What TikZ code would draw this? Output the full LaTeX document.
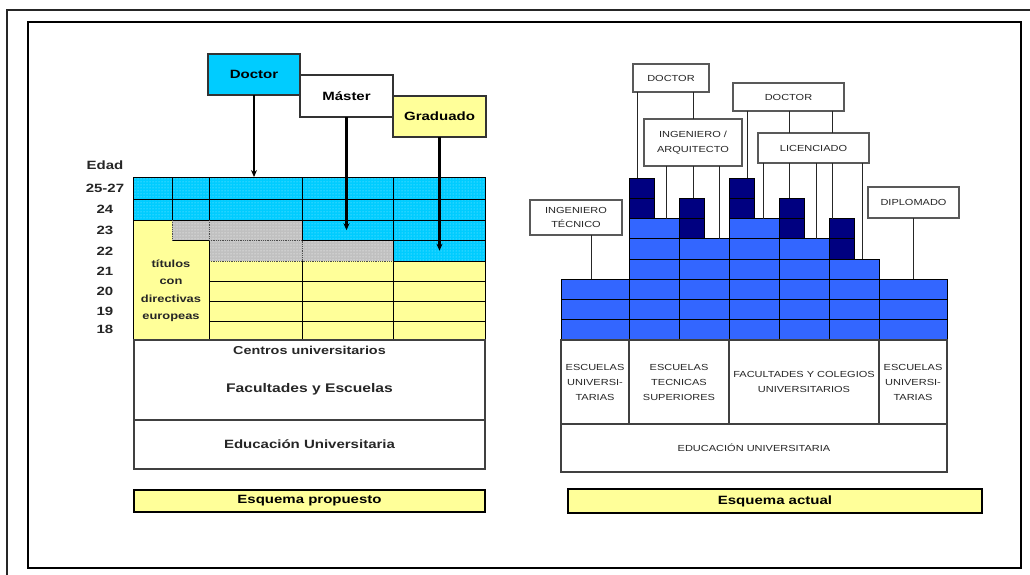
\documentclass[tikz,border=0pt]{standalone}
\usepackage{fontspec}
\setmainfont{Liberation Sans}[FakeStretch=1.25]
\usetikzlibrary{patterns,arrows.meta,calc}

\definecolor{cyanC}{HTML}{00CCFF}
\definecolor{yelC}{HTML}{FFFF99}
\definecolor{grayC}{HTML}{C0C0C0}
\definecolor{blueC}{HTML}{3366FF}
\definecolor{navyC}{HTML}{000080}

% rectangular node given by its corners: name, x1, y1, x2, y2, style, text
\newcommand\boxat[7]{%
  \pgfmathsetmacro\Bxc{(#2+#4)/2}\pgfmathsetmacro\Byc{(#3+#5)/2}%
  \pgfmathsetmacro\Bw{#4-#2}\pgfmathsetmacro\Bh{#5-#3}%
  \node[inner sep=0pt, outer sep=0pt, minimum width=\Bw pt, minimum height=\Bh pt, #6] (#1) at (\Bxc,\Byc) {#7};}

\begin{document}
\begin{tikzpicture}[x=1pt, y=-1pt,
  hdbox/.style={draw=black!80, line width=1.6pt, font=\fontsize{12}{14}\selectfont\bfseries},
  wbox/.style={draw=black!75, line width=1.5pt, fill=white, font=\fontsize{12}{14}\selectfont\bfseries},
  ybox/.style={draw=black, line width=1.6pt, fill=yelC, font=\fontsize{12}{14}\selectfont\bfseries},
  cyanfill/.style={preaction={fill=cyanC}, pattern=dots, pattern color=white!60!cyanC},
  grayfill/.style={preaction={fill=grayC}, pattern=dots, pattern color=white},
  gl/.style={line width=0.8pt, black},
  dotl/.style={line width=0.8pt, black!70, densely dotted},
  arr/.style={line width=2.2pt, -{Stealth[length=7pt, width=6pt]}},
  agelab/.style={font=\fontsize{12}{13}\selectfont\bfseries, black!85},
  rbox/.style={draw=black!65, line width=1.1pt, fill=white, align=center,
    text=black!85, font=\fontsize{8.8}{14.5}\selectfont},
  wcell/.style={draw=black!75, line width=1.1pt, fill=white, align=center,
    text=black!85, font=\fontsize{8.8}{15}\selectfont},
  bcell/.style={fill=blueC, draw=black, line width=0.7pt},
  dcell/.style={fill=navyC, draw=black, line width=0.7pt},
  cl/.style={line width=0.9pt, black!85}]
\useasboundingbox (0,0) rectangle (1030,575);

% page frames
\draw[line width=1.3pt, black!85] (7,575) -- (7,10) -- (1030,10);
\draw[line width=1.8pt] (28,22) rectangle (1021,568);

% ---------------- proposed scheme ----------------
% age grid: fills
\path[cyanfill] (133,177) rectangle (485,220);
\path[cyanfill] (302,220) rectangle (485,240.5);
\path[cyanfill] (393,240.5) rectangle (485,261);
\path[grayfill] (172,220) rectangle (302,240.5);
\path[grayfill] (209,240.5) rectangle (393,261);
\fill[yelC] (133,220) -- (172,220) -- (172,240.5) -- (209,240.5) -- (209,261)
  -- (485,261) -- (485,340) -- (133,340) -- cycle;

% age grid: lines
\draw[gl] (133,177) rectangle (485,340);
\draw[gl] (133,199) -- (485,199);
\draw[gl] (133,220) -- (485,220);
\draw[gl] (302,240.5) -- (485,240.5);
\draw[line width=1.6pt] (172,240.5) -- (209,240.5);
\draw[dotl] (209,240.5) -- (302,240.5);
\draw[dotl] (209,261) -- (393,261);
\draw[gl] (393,261) -- (485,261);
\foreach \y in {281.5,301.5,321.5} \draw[gl] (209,\y) -- (485,\y);
\draw[gl] (172,177) -- (172,220);
\draw[dotl] (172,220) -- (172,240.5);
\draw[gl] (209,177) -- (209,220);
\draw[dotl] (209,220) -- (209,240.5);
\draw[gl] (209,240.5) -- (209,340);
\draw[gl] (302,177) -- (302,240.5);
\draw[dotl] (302,240.5) -- (302,261);
\draw[gl] (302,261) -- (302,340);
\draw[gl] (393,177) -- (393,340);

% named regions of the grid
\boxat{grid}{133}{177}{485}{340}{}{}
\boxat{cyanA}{302}{220}{393}{240.5}{}{}
\boxat{cyanB}{393}{240.5}{485}{261}{}{}

% ages
\node[agelab] (edad) at (105,165) {Edad};
\node[agelab] (a25) at (105,188) {25-27};
\node[agelab] (a24) at (105,209.5) {24};
\node[agelab] (a23) at (105,230) {23};
\node[agelab] (a22) at (105,251) {22};
\node[agelab] (a21) at (105,271) {21};
\node[agelab] (a20) at (105,291.5) {20};
\node[agelab] (a19) at (105,311.5) {19};
\node[agelab] (a18) at (105,329) {18};

\node[align=center, font=\fontsize{10.3}{17.5}\selectfont\bfseries, black!85]
  (tit) at (171,291) {títulos\\con\\directivas\\europeas};

% degree boxes
\boxat{doc}{208}{54}{300}{95}{hdbox, fill=cyanC}{Doctor}
\boxat{mas}{300}{75}{393}{117}{hdbox, fill=white}{Máster}
\boxat{gra}{393}{96}{486}{137}{hdbox, fill=yelC}{Graduado}

\draw[arr] (doc.south) -- (doc.south |- grid.north);
\draw[arr] (mas.south) -- (mas.south |- cyanA.center);
\draw[arr] (gra.south) -- (gra.south |- cyanB.center);

% centres
\boxat{cen}{134}{340}{485}{420}{wbox}{}
\node[font=\fontsize{11.5}{13}\selectfont\bfseries, black!85] (centros) at (cen.center |- 0,350) {Centros universitarios};
\node[font=\fontsize{12.5}{14}\selectfont\bfseries, black!85] (facesc) at (cen.center |- 0,389) {Facultades y Escuelas};
\boxat{edu}{134}{420}{485}{469}{wbox, text=black!85}{Educación Universitaria}
\boxat{esqp}{134}{490}{485}{512}{ybox}{Esquema propuesto}

% ---------------- current scheme ----------------
% light blue cells per column (row height 20.25)
\foreach \xa/\xb/\t in {561/629/5, 629/679/2, 679/729/3, 729/779/2, 779/829/3, 829/879/4, 879/947/5}
  \foreach \i in {\t,...,7}
    \draw[bcell] (\xa,{178+20.25*\i}) rectangle (\xb,{178+20.25*(\i+1)});

% column tops
\boxat{bc0}{561}{279.25}{629}{340}{}{}
\boxat{bc1}{629}{218.5}{679}{340}{}{}
\boxat{bc2}{679}{238.75}{729}{340}{}{}
\boxat{bc3}{729}{218.5}{779}{340}{}{}
\boxat{bc4}{779}{238.75}{829}{340}{}{}
\boxat{bc5}{829}{259}{879}{340}{}{}
\boxat{bc6}{879}{279.25}{947}{340}{}{}

% dark blocks
\boxat{dk1}{629}{178}{654}{218.5}{dcell}{}
\boxat{dk2}{679}{198.25}{704}{238.75}{dcell}{}
\boxat{dk3}{729}{178}{754}{218.5}{dcell}{}
\boxat{dk4}{779}{198.25}{804}{238.75}{dcell}{}
\boxat{dk5}{829}{218.5}{854}{259}{dcell}{}
\foreach \d in {dk1,dk2,dk3,dk4,dk5} \draw[line width=0.7pt] (\d.west) -- (\d.east);

% title boxes
\boxat{d1}{633}{64}{709}{92}{rbox}{DOCTOR}
\boxat{d2}{733}{83}{844}{111}{rbox}{DOCTOR}
\boxat{ia}{644}{119}{742}{166}{rbox}{INGENIERO /\\ARQUITECTO}
\boxat{lic}{758}{133}{869}{163}{rbox}{LICENCIADO}
\boxat{dip}{868}{187}{959}{218}{rbox}{DIPLOMADO}
\boxat{it}{530}{200}{622}{235}{rbox}{INGENIERO\\TÉCNICO}

% connectors
\draw[cl] ([xshift=4pt]d1.south west) -- ([xshift=4pt]d1.south west |- dk1.north);
\draw[cl] (ia.north) -- (ia.north |- d1.south);
\draw[cl] ([xshift=22pt]ia.south west) -- ([xshift=22pt]ia.south west |- bc1.north);
\draw[cl] (ia.south) -- (ia.south |- dk2.north);
\draw[cl] ([xshift=-23pt]ia.south east) -- ([xshift=-23pt]ia.south east |- bc2.north);
\draw[cl] ([xshift=14pt]d2.south west) -- ([xshift=14pt]d2.south west |- dk3.north);
\draw[cl] ([xshift=31pt]lic.north west) -- ([xshift=31pt]lic.north west |- d2.south);
\draw[cl] ([xshift=-37pt]lic.north east) -- ([xshift=-37pt]lic.north east |- d2.south);
\draw[cl] ([xshift=5pt]lic.south west) -- ([xshift=5pt]lic.south west |- bc3.north);
\draw[cl] ([xshift=31pt]lic.south west) -- ([xshift=31pt]lic.south west |- dk4.north);
\draw[cl] ([xshift=58pt]lic.south west) -- ([xshift=58pt]lic.south west |- bc4.north);
\draw[cl] ([xshift=-37pt]lic.south east) -- ([xshift=-37pt]lic.south east |- dk5.north);
\draw[cl] ([xshift=-7pt]lic.south east) -- ([xshift=-7pt]lic.south east |- bc5.north);
\draw[cl] (dip.south) -- (dip.south |- bc6.north);
\draw[cl] ([xshift=15pt]it.south) -- ([xshift=15pt]it.south |- bc0.north);

% institutions
\boxat{sc1}{561}{340}{629}{424}{wcell}{ESCUELAS\\UNIVERSI-\\TARIAS}
\boxat{sc2}{629}{340}{729}{424}{wcell}{ESCUELAS\\TECNICAS\\SUPERIORES}
\boxat{sc3}{729}{340}{879}{424}{wcell}{FACULTADES Y COLEGIOS\\UNIVERSITARIOS}
\boxat{sc4}{879}{340}{947}{424}{wcell}{ESCUELAS\\UNIVERSI-\\TARIAS}
\boxat{edr}{561}{424}{947}{472}{wcell}{EDUCACIÓN UNIVERSITARIA}
\boxat{esqa}{568}{489}{982}{513}{ybox}{Esquema actual}
\end{tikzpicture}
\end{document}
